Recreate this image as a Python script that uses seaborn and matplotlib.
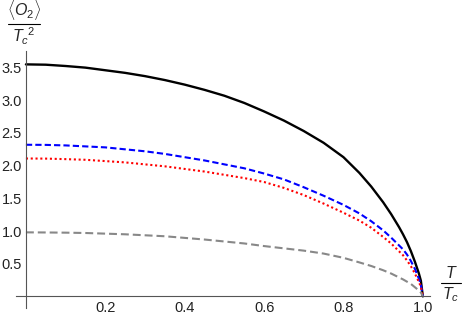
import numpy as np
import pandas as pd
import matplotlib
matplotlib.use("Agg")
import matplotlib.pyplot as plt
import seaborn as sns
from matplotlib.lines import Line2D
from matplotlib.ticker import MultipleLocator, FixedLocator

# values
t_ratio = [0, 0.05, 0.1, 0.15, 0.2, 0.25, 0.3, 0.35, 0.4, 0.45, 0.5, 0.55, 0.6, 0.65, 0.7,
           0.75, 0.8, 0.84, 0.87, 0.9, 0.92, 0.94, 0.95, 0.96, 0.97, 0.98, 0.99, 0.995, 1.0]
cond_black = [3.55, 3.545, 3.525, 3.50, 3.46, 3.42, 3.37, 3.31, 3.24, 3.16, 3.07, 2.96, 2.83,
              2.69, 2.53, 2.35, 2.13, 1.89, 1.68, 1.44, 1.26, 1.06, 0.95, 0.83, 0.69, 0.53,
              0.35, 0.24, 0.0]
cond_blue = [2.32, 2.318, 2.31, 2.295, 2.28, 2.25, 2.22, 2.18, 2.13, 2.08, 2.02, 1.96, 1.88,
             1.79, 1.67, 1.54, 1.40, 1.27, 1.15, 1.01, 0.90, 0.78, 0.72, 0.64, 0.54, 0.42,
             0.27, 0.18, 0.0]
cond_red = [2.11, 2.108, 2.10, 2.09, 2.07, 2.05, 2.02, 1.99, 1.95, 1.91, 1.86, 1.81, 1.75,
            1.66, 1.55, 1.42, 1.28, 1.16, 1.05, 0.91, 0.81, 0.69, 0.63, 0.55, 0.46, 0.35,
            0.22, 0.15, 0.0]
cond_gray = [0.98, 0.978, 0.975, 0.97, 0.96, 0.95, 0.935, 0.92, 0.895, 0.87, 0.84, 0.81, 0.77,
             0.735, 0.70, 0.655, 0.59, 0.52, 0.465, 0.40, 0.35, 0.29, 0.26, 0.225, 0.19, 0.14,
             0.09, 0.06, 0.0]

x_ticks = [0.2, 0.4, 0.6, 0.8, 1.0]
y_ticks = [0.5, 1.0, 1.5, 2.0, 2.5, 3.0, 3.5]

sns.set_style("white")
plt.rcParams["font.family"] = ["Liberation Sans", "DejaVu Sans"]
plt.rcParams["mathtext.fontset"] = "custom"
plt.rcParams["mathtext.rm"] = "Liberation Sans"
plt.rcParams["mathtext.it"] = "Liberation Sans:italic"

W, H = 463, 319
fig = plt.figure(figsize=(W / 100, H / 100), dpi=100)
ax = fig.add_axes([16 / W, 11.5 / H, 414 / W, 256.2 / H])

axis_col = "#555555"

# curves
sns.lineplot(x=t_ratio, y=cond_black, ax=ax, color="black", linewidth=1.7, sort=False)
sns.lineplot(x=t_ratio, y=cond_blue, ax=ax, color="#0000ff", linewidth=1.5, sort=False,
             linestyle=(0, (3.0, 1.5)))
sns.lineplot(x=t_ratio, y=cond_red, ax=ax, color="#ff0000", linewidth=1.5, sort=False,
             linestyle=(0, (1.0, 1.3)))
sns.lineplot(x=t_ratio, y=cond_gray, ax=ax, color="#888888", linewidth=1.5, sort=False,
             linestyle=(0, (3.8, 1.9)))

ax.set_xlim(-0.025, 1.018)
ax.set_ylim(-0.17, 3.75)

# Mathematica-style axes crossing at the origin
for s in ["top", "right"]:
    ax.spines[s].set_visible(False)
ax.spines["left"].set_position(("data", 0))
ax.spines["bottom"].set_position(("data", 0))
for s in ["left", "bottom"]:
    ax.spines[s].set_color(axis_col)
    ax.spines[s].set_linewidth(0.8)

ax.xaxis.set_major_locator(FixedLocator(x_ticks))
ax.yaxis.set_major_locator(FixedLocator(y_ticks))
ax.xaxis.set_minor_locator(MultipleLocator(0.05))
ax.yaxis.set_minor_locator(MultipleLocator(0.1))
ax.set_xticklabels([f"{v:.1f}" for v in x_ticks])
ax.set_yticklabels([f"{v:.1f}" for v in y_ticks])
ax.tick_params(which="both", direction="in", color=axis_col, width=0.7,
               labelsize=10.5, labelcolor="#222222")
ax.tick_params(which="major", length=4)
ax.tick_params(which="minor", length=2.3)
ax.tick_params(axis="x", pad=3)
ax.tick_params(axis="y", pad=3)
ax.set_xlabel("")
ax.set_ylabel("")
ax.grid(False)


def fraction(cx, cy, num, den, half_w, size=11.5):
    """Stack numerator / bar / denominator around pixel (cx, cy)."""
    fig.text(cx / W, 1 - (cy - 2) / H, num, ha="center", va="bottom", fontsize=size)
    fig.text(cx / W, 1 - (cy + 2) / H, den, ha="center", va="top", fontsize=size)
    fig.add_artist(Line2D([(cx - half_w) / W, (cx + half_w) / W], [1 - cy / H, 1 - cy / H],
                          color="black", linewidth=0.8))


fraction(24, 24, r"$\langle O_2\rangle$", r"${T_c}^{2}$", 16)
fraction(451, 283, r"$T$", r"$T_c$", 10)

fig.savefig("out.png", dpi=100)
